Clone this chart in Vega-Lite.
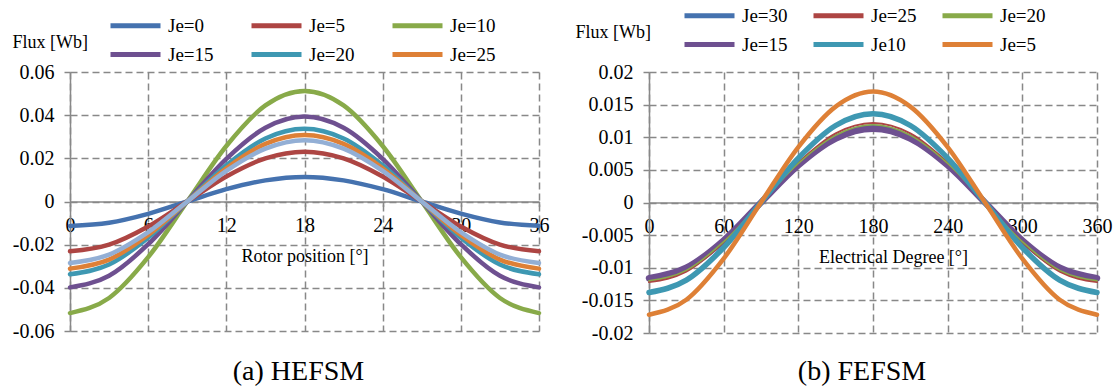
{
"$schema": "https://vega.github.io/schema/vega-lite/v6.json",
"padding": {"left": 12, "top": 6, "right": 5, "bottom": 5},
"background": "white",
"bounds": "flush",
"spacing": 110,
"config": {
  "font": "Liberation Serif",
  "view": {"stroke": null},
  "axis": {"labelFont": "Liberation Serif", "labelFontSize": 20, "labelColor": "#000", "titleFont": "Liberation Serif", "titleFontSize": 18, "titleFontWeight": "normal", "titleColor": "#000", "gridColor": "#888", "gridDash": [7, 4], "gridWidth": 1.5, "gridOpacity": 1, "domainColor": "#888", "domainWidth": 1.5, "tickColor": "#888", "tickWidth": 1.5, "tickSize": 6},
  "legend": {"orient": "none", "direction": "horizontal", "columns": 3, "symbolType": "M0,0H10", "symbolStrokeWidth": 5, "symbolSize": 100, "labelFont": "Liberation Serif", "labelFontSize": 19, "labelColor": "#000", "gridAlign": "all", "rowPadding": 9, "labelOffset": 48, "title": null},
  "line": {"strokeCap": "round", "strokeJoin": "round"}
},
"resolve": {"scale": {"color": "independent", "x": "independent", "y": "independent"}},
"hconcat": [
{
  "width": 469, "height": 259,
  "title": {"text": "(a)  HEFSM", "orient": "bottom", "font": "Liberation Serif", "fontSize": 28, "fontWeight": "normal", "color": "#000", "offset": 17, "anchor": "middle", "dx": -6},
  "data": {"values": [
{"s":"Je=0","x":0,"y":-0.0113},{"s":"Je=0","x":3,"y":-0.0098},{"s":"Je=0","x":6,"y":-0.0057},{"s":"Je=0","x":9,"y":0},{"s":"Je=0","x":12,"y":0.0057},{"s":"Je=0","x":15,"y":0.0098},{"s":"Je=0","x":18,"y":0.0114},{"s":"Je=0","x":21,"y":0.0098},{"s":"Je=0","x":24,"y":0.0057},{"s":"Je=0","x":27,"y":0},{"s":"Je=0","x":30,"y":-0.0056},{"s":"Je=0","x":33,"y":-0.0097},{"s":"Je=0","x":36,"y":-0.0112},
{"s":"Je=5","x":0,"y":-0.0231},{"s":"Je=5","x":3,"y":-0.0200},{"s":"Je=5","x":6,"y":-0.0116},{"s":"Je=5","x":9,"y":0},{"s":"Je=5","x":12,"y":0.0116},{"s":"Je=5","x":15,"y":0.0200},{"s":"Je=5","x":18,"y":0.0231},{"s":"Je=5","x":21,"y":0.0200},{"s":"Je=5","x":24,"y":0.0116},{"s":"Je=5","x":27,"y":0},{"s":"Je=5","x":30,"y":-0.0116},{"s":"Je=5","x":33,"y":-0.0200},{"s":"Je=5","x":36,"y":-0.0231},
{"s":"Je=10","x":0,"y":-0.0517},{"s":"Je=10","x":3,"y":-0.0447},{"s":"Je=10","x":6,"y":-0.0258},{"s":"Je=10","x":9,"y":0},{"s":"Je=10","x":12,"y":0.0257},{"s":"Je=10","x":15,"y":0.0445},{"s":"Je=10","x":18,"y":0.0512},{"s":"Je=10","x":21,"y":0.0445},{"s":"Je=10","x":24,"y":0.0257},{"s":"Je=10","x":27,"y":0},{"s":"Je=10","x":30,"y":-0.0258},{"s":"Je=10","x":33,"y":-0.0447},{"s":"Je=10","x":36,"y":-0.0517},
{"s":"Je=15","x":0,"y":-0.0398},{"s":"Je=15","x":3,"y":-0.0344},{"s":"Je=15","x":6,"y":-0.0198},{"s":"Je=15","x":9,"y":0},{"s":"Je=15","x":12,"y":0.0198},{"s":"Je=15","x":15,"y":0.0342},{"s":"Je=15","x":18,"y":0.0394},{"s":"Je=15","x":21,"y":0.0342},{"s":"Je=15","x":24,"y":0.0198},{"s":"Je=15","x":27,"y":0},{"s":"Je=15","x":30,"y":-0.0198},{"s":"Je=15","x":33,"y":-0.0344},{"s":"Je=15","x":36,"y":-0.0398},
{"s":"Je=20","x":0,"y":-0.0337},{"s":"Je=20","x":3,"y":-0.0292},{"s":"Je=20","x":6,"y":-0.0168},{"s":"Je=20","x":9,"y":0},{"s":"Je=20","x":12,"y":0.0168},{"s":"Je=20","x":15,"y":0.0292},{"s":"Je=20","x":18,"y":0.0337},{"s":"Je=20","x":21,"y":0.0292},{"s":"Je=20","x":24,"y":0.0168},{"s":"Je=20","x":27,"y":0},{"s":"Je=20","x":30,"y":-0.0168},{"s":"Je=20","x":33,"y":-0.0292},{"s":"Je=20","x":36,"y":-0.0337},
{"s":"Je=25","x":0,"y":-0.0311},{"s":"Je=25","x":3,"y":-0.0269},{"s":"Je=25","x":6,"y":-0.0155},{"s":"Je=25","x":9,"y":0},{"s":"Je=25","x":12,"y":0.0154},{"s":"Je=25","x":15,"y":0.0267},{"s":"Je=25","x":18,"y":0.0308},{"s":"Je=25","x":21,"y":0.0267},{"s":"Je=25","x":24,"y":0.0154},{"s":"Je=25","x":27,"y":0},{"s":"Je=25","x":30,"y":-0.0155},{"s":"Je=25","x":33,"y":-0.0269},{"s":"Je=25","x":36,"y":-0.0311},
{"s":"Je=30","x":0,"y":-0.0285},{"s":"Je=30","x":3,"y":-0.0246},{"s":"Je=30","x":6,"y":-0.0142},{"s":"Je=30","x":9,"y":0},{"s":"Je=30","x":12,"y":0.0142},{"s":"Je=30","x":15,"y":0.0245},{"s":"Je=30","x":18,"y":0.0284},{"s":"Je=30","x":21,"y":0.0245},{"s":"Je=30","x":24,"y":0.0142},{"s":"Je=30","x":27,"y":0},{"s":"Je=30","x":30,"y":-0.0142},{"s":"Je=30","x":33,"y":-0.0246},{"s":"Je=30","x":36,"y":-0.0285}
  ]},
  "mark": {"type": "line", "interpolate": "monotone", "strokeWidth": 4.5},
  "encoding": {
    "x": {"field": "x", "type": "quantitative", "scale": {"domain": [0, 36], "nice": false},
      "axis": {"values": [0, 6, 12, 18, 24, 30, 36], "offset": -129.5, "labelFont": "Liberation Serif", "labelFontSize": 20, "labelPadding": 9, "tickSize": 5, "title": "Rotor position [°]", "titlePadding": 12, "labelFlush": false}},
    "y": {"field": "y", "type": "quantitative", "scale": {"domain": [-0.06, 0.06], "nice": false, "zero": false},
      "axis": {"values": [-0.06, -0.04, -0.02, 0, 0.02, 0.04, 0.06], "labelFont": "Liberation Serif", "labelExpr": "datum.value == 0 ? '0' : toString(round(datum.value*1000)/1000)", "title": "Flux [Wb]", "titleAngle": 0, "titleAlign": "left", "titleBaseline": "middle", "titleX": -58, "titleY": -30, "labelPadding": 10}},
    "color": {"field": "s", "type": "nominal",
      "scale": {"domain": ["Je=0", "Je=5", "Je=10", "Je=15", "Je=20", "Je=25", "Je=30"], "range": ["#4572AF", "#AD4543", "#88AA49", "#6E5090", "#3E98B2", "#DE8036", "#93AFD5"]},
      "legend": {"values": ["Je=0", "Je=5", "Je=10", "Je=15", "Je=20", "Je=25"], "labelFont": "Liberation Serif", "legendX": 31, "legendY": -56, "columnPadding": 28, "encode": {"symbols": {"update": {"strokeCap": {"value": "round"}}}}}}
  }
},
{
  "width": 448, "height": 261,
  "title": {"text": "(b)  FEFSM", "orient": "bottom", "font": "Liberation Serif", "fontSize": 28, "fontWeight": "normal", "color": "#000", "offset": 15, "anchor": "middle", "dx": -11},
  "data": {"values": [
{"s":"Je=30","x":0,"y":-0.0118},{"s":"Je=30","x":30,"y":-0.0102},{"s":"Je=30","x":60,"y":-0.0059},{"s":"Je=30","x":90,"y":0},{"s":"Je=30","x":120,"y":0.0058},{"s":"Je=30","x":150,"y":0.0101},{"s":"Je=30","x":180,"y":0.0117},{"s":"Je=30","x":210,"y":0.0101},{"s":"Je=30","x":240,"y":0.0058},{"s":"Je=30","x":270,"y":0},{"s":"Je=30","x":300,"y":-0.0059},{"s":"Je=30","x":330,"y":-0.0102},{"s":"Je=30","x":360,"y":-0.0118},
{"s":"Je=15","x":0,"y":-0.0116},{"s":"Je=15","x":30,"y":-0.0100},{"s":"Je=15","x":60,"y":-0.0058},{"s":"Je=15","x":90,"y":0},{"s":"Je=15","x":120,"y":0.0057},{"s":"Je=15","x":150,"y":0.0098},{"s":"Je=15","x":180,"y":0.0113},{"s":"Je=15","x":210,"y":0.0098},{"s":"Je=15","x":240,"y":0.0057},{"s":"Je=15","x":270,"y":0},{"s":"Je=15","x":300,"y":-0.0058},{"s":"Je=15","x":330,"y":-0.0100},{"s":"Je=15","x":360,"y":-0.0116},
{"s":"Je=25","x":0,"y":-0.0122},{"s":"Je=25","x":30,"y":-0.0106},{"s":"Je=25","x":60,"y":-0.0061},{"s":"Je=25","x":90,"y":0},{"s":"Je=25","x":120,"y":0.0061},{"s":"Je=25","x":150,"y":0.0106},{"s":"Je=25","x":180,"y":0.0122},{"s":"Je=25","x":210,"y":0.0106},{"s":"Je=25","x":240,"y":0.0061},{"s":"Je=25","x":270,"y":0},{"s":"Je=25","x":300,"y":-0.0061},{"s":"Je=25","x":330,"y":-0.0106},{"s":"Je=25","x":360,"y":-0.0122},
{"s":"Je=20","x":0,"y":-0.0120},{"s":"Je=20","x":30,"y":-0.0104},{"s":"Je=20","x":60,"y":-0.0060},{"s":"Je=20","x":90,"y":0},{"s":"Je=20","x":120,"y":0.0060},{"s":"Je=20","x":150,"y":0.0103},{"s":"Je=20","x":180,"y":0.0119},{"s":"Je=20","x":210,"y":0.0103},{"s":"Je=20","x":240,"y":0.0060},{"s":"Je=20","x":270,"y":0},{"s":"Je=20","x":300,"y":-0.0060},{"s":"Je=20","x":330,"y":-0.0104},{"s":"Je=20","x":360,"y":-0.0120},
{"s":"Je10","x":0,"y":-0.0138},{"s":"Je10","x":30,"y":-0.0119},{"s":"Je10","x":60,"y":-0.0069},{"s":"Je10","x":90,"y":0},{"s":"Je10","x":120,"y":0.0068},{"s":"Je10","x":150,"y":0.0118},{"s":"Je10","x":180,"y":0.0136},{"s":"Je10","x":210,"y":0.0118},{"s":"Je10","x":240,"y":0.0068},{"s":"Je10","x":270,"y":0},{"s":"Je10","x":300,"y":-0.0069},{"s":"Je10","x":330,"y":-0.0119},{"s":"Je10","x":360,"y":-0.0138},
{"s":"Je=5","x":0,"y":-0.0172},{"s":"Je=5","x":30,"y":-0.0149},{"s":"Je=5","x":60,"y":-0.0086},{"s":"Je=5","x":90,"y":0},{"s":"Je=5","x":120,"y":0.0085},{"s":"Je=5","x":150,"y":0.0147},{"s":"Je=5","x":180,"y":0.0170},{"s":"Je=5","x":210,"y":0.0147},{"s":"Je=5","x":240,"y":0.0085},{"s":"Je=5","x":270,"y":0},{"s":"Je=5","x":300,"y":-0.0086},{"s":"Je=5","x":330,"y":-0.0149},{"s":"Je=5","x":360,"y":-0.0172}
  ]},
  "encoding": {
    "x": {"field": "x", "type": "quantitative", "scale": {"domain": [0, 360], "nice": false},
      "axis": {"values": [0, 60, 120, 180, 240, 300, 360], "offset": -130.5, "labelFont": "Liberation Serif", "labelFontSize": 20, "labelPadding": 9, "tickSize": 5, "title": "Electrical Degree [°]", "titlePadding": 12, "titleX": 244, "labelFlush": false}},
    "y": {"field": "y", "type": "quantitative", "scale": {"domain": [-0.02, 0.02], "nice": false, "zero": false},
      "axis": {"values": [-0.02, -0.015, -0.01, -0.005, 0, 0.005, 0.01, 0.015, 0.02], "labelFont": "Liberation Serif", "labelExpr": "datum.value == 0 ? '0' : toString(round(datum.value*1000)/1000)", "title": "Flux [Wb]", "titleAngle": 0, "titleAlign": "left", "titleBaseline": "middle", "titleX": -74, "titleY": -40, "labelPadding": 10}},
    "color": {"field": "s", "type": "nominal",
      "scale": {"domain": ["Je=30", "Je=25", "Je=20", "Je=15", "Je10", "Je=5"], "range": ["#4572AF", "#AD4543", "#88AA49", "#6E5090", "#3E98B2", "#DE8036"]},
      "legend": {"labelFont": "Liberation Serif", "legendX": 26, "legendY": -66, "columnPadding": 16, "encode": {"symbols": {"update": {"strokeCap": {"value": "round"}}}}}}
  },
  "layer": [
    {"transform": [{"filter": {"field": "s", "equal": "Je=30"}}], "mark": {"type": "line", "interpolate": "monotone", "strokeWidth": 4}},
    {"transform": [{"filter": {"field": "s", "equal": "Je=15"}}], "mark": {"type": "line", "interpolate": "monotone", "strokeWidth": 6.5}},
    {"transform": [{"filter": {"field": "s", "equal": "Je=25"}}], "mark": {"type": "line", "interpolate": "monotone", "strokeWidth": 2}},
    {"transform": [{"filter": {"field": "s", "equal": "Je=20"}}], "mark": {"type": "line", "interpolate": "monotone", "strokeWidth": 1.5}},
    {"transform": [{"filter": {"field": "s", "equal": "Je10"}}], "mark": {"type": "line", "interpolate": "monotone", "strokeWidth": 5.5}},
    {"transform": [{"filter": {"field": "s", "equal": "Je=5"}}], "mark": {"type": "line", "interpolate": "monotone", "strokeWidth": 4.5}}
  ]
}
]
}
